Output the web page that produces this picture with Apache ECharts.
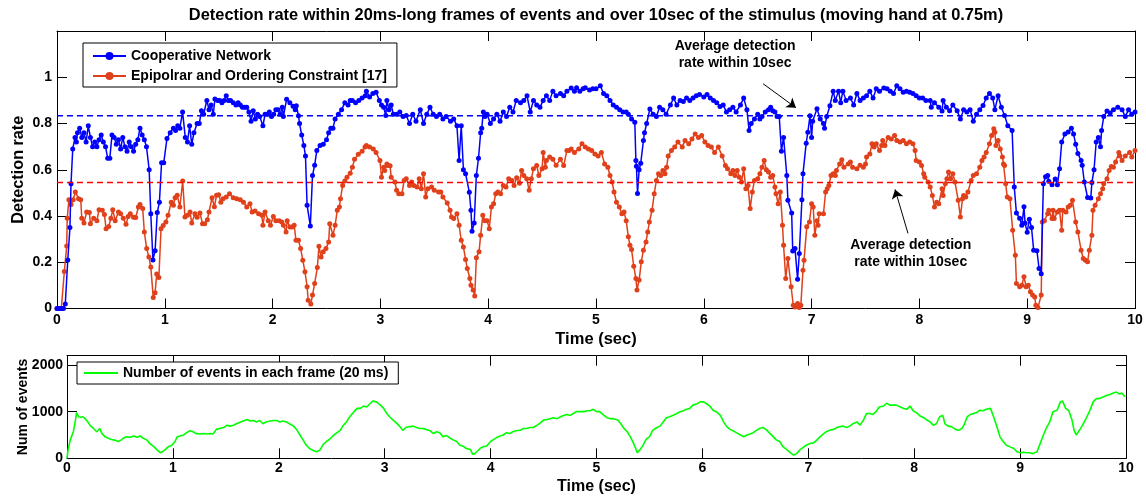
<!DOCTYPE html>
<html><head><meta charset="utf-8">
<script src="https://cdn.jsdelivr.net/npm/echarts@6/dist/echarts.min.js"></script>
<style>html,body{margin:0;padding:0;background:#fff}#c{width:1146px;height:499px}</style>
</head><body><div id="c"></div>
<script>
// ---- data: [time (sec), value] ----
const coopPoints = [[0,0],[0.02,0],[0.04,0],[0.06,0],[0.077,0.02],[0.1,0.21],[0.12,0.35],[0.13,0.54],[0.146,0.69],[0.167,0.74],[0.18,0.72],[0.19,0.76],[0.21,0.78],[0.23,0.74],[0.25,0.76],[0.27,0.72],[0.29,0.79],[0.31,0.74],[0.33,0.7],[0.35,0.72],[0.37,0.7],[0.39,0.73],[0.41,0.75],[0.43,0.72],[0.45,0.7],[0.47,0.65],[0.49,0.65],[0.51,0.75],[0.53,0.74],[0.55,0.71],[0.57,0.73],[0.59,0.69],[0.61,0.74],[0.63,0.7],[0.65,0.68],[0.67,0.72],[0.69,0.7],[0.71,0.68],[0.73,0.71],[0.75,0.73],[0.77,0.78],[0.79,0.75],[0.81,0.73],[0.83,0.7],[0.855,0.6],[0.87,0.41],[0.89,0.21],[0.91,0.25],[0.93,0.415],[0.95,0.46],[0.97,0.63],[0.99,0.63],[1.02,0.735],[1.05,0.76],[1.08,0.78],[1.1,0.77],[1.12,0.79],[1.14,0.78],[1.165,0.85],[1.19,0.74],[1.21,0.72],[1.23,0.79],[1.25,0.71],[1.27,0.76],[1.3,0.8],[1.32,0.8],[1.34,0.855],[1.36,0.84],[1.39,0.9],[1.41,0.86],[1.43,0.88],[1.45,0.84],[1.465,0.906],[1.49,0.9],[1.51,0.9],[1.53,0.89],[1.55,0.9],[1.57,0.92],[1.59,0.9],[1.61,0.9],[1.635,0.89],[1.66,0.88],[1.68,0.89],[1.7,0.88],[1.72,0.87],[1.74,0.87],[1.76,0.87],[1.78,0.85],[1.8,0.81],[1.82,0.855],[1.84,0.82],[1.86,0.84],[1.88,0.83],[1.91,0.79],[1.93,0.84],[1.95,0.84],[1.97,0.85],[1.99,0.83],[2.01,0.84],[2.03,0.86],[2.05,0.86],[2.07,0.84],[2.09,0.87],[2.1,0.83],[2.13,0.905],[2.16,0.89],[2.19,0.875],[2.21,0.86],[2.22,0.877],[2.24,0.834],[2.25,0.8],[2.27,0.75],[2.29,0.705],[2.305,0.66],[2.32,0.446],[2.35,0.357],[2.37,0.575],[2.39,0.62],[2.41,0.683],[2.44,0.705],[2.47,0.71],[2.5,0.73],[2.52,0.76],[2.54,0.78],[2.56,0.78],[2.58,0.82],[2.61,0.84],[2.64,0.86],[2.67,0.89],[2.7,0.88],[2.72,0.9],[2.74,0.9],[2.77,0.89],[2.8,0.9],[2.83,0.91],[2.86,0.92],[2.87,0.94],[2.9,0.915],[2.93,0.93],[2.96,0.935],[2.99,0.9],[3.01,0.88],[3.03,0.87],[3.05,0.835],[3.06,0.9],[3.08,0.86],[3.1,0.88],[3.12,0.84],[3.15,0.84],[3.18,0.85],[3.21,0.83],[3.24,0.835],[3.27,0.8],[3.3,0.84],[3.33,0.81],[3.37,0.86],[3.4,0.8],[3.43,0.84],[3.46,0.87],[3.49,0.84],[3.52,0.83],[3.55,0.84],[3.58,0.82],[3.61,0.83],[3.65,0.81],[3.68,0.82],[3.71,0.79],[3.73,0.64],[3.75,0.79],[3.77,0.6],[3.79,0.583],[3.825,0.503],[3.84,0.425],[3.85,0.334],[3.87,0.37],[3.89,0.575],[3.91,0.65],[3.93,0.76],[3.94,0.78],[3.955,0.85],[3.97,0.83],[3.99,0.84],[4.02,0.8],[4.05,0.82],[4.08,0.84],[4.11,0.81],[4.14,0.85],[4.17,0.83],[4.2,0.87],[4.23,0.85],[4.26,0.9],[4.3,0.89],[4.33,0.9],[4.36,0.92],[4.39,0.85],[4.42,0.9],[4.45,0.88],[4.48,0.87],[4.51,0.9],[4.54,0.92],[4.57,0.9],[4.6,0.94],[4.63,0.92],[4.67,0.93],[4.7,0.92],[4.73,0.94],[4.77,0.953],[4.8,0.94],[4.82,0.955],[4.85,0.94],[4.88,0.95],[4.9,0.955],[4.94,0.945],[4.97,0.95],[5.0,0.95],[5.04,0.963],[5.07,0.93],[5.1,0.92],[5.13,0.9],[5.16,0.88],[5.19,0.87],[5.22,0.86],[5.25,0.85],[5.28,0.85],[5.3,0.84],[5.33,0.82],[5.36,0.805],[5.37,0.64],[5.375,0.615],[5.385,0.497],[5.4,0.6],[5.415,0.628],[5.44,0.726],[5.45,0.76],[5.47,0.8],[5.5,0.863],[5.53,0.84],[5.56,0.83],[5.59,0.87],[5.62,0.86],[5.65,0.84],[5.69,0.88],[5.72,0.91],[5.75,0.88],[5.78,0.9],[5.81,0.895],[5.84,0.91],[5.87,0.9],[5.9,0.91],[5.93,0.92],[5.96,0.925],[6.0,0.915],[6.03,0.925],[6.06,0.91],[6.09,0.9],[6.12,0.89],[6.15,0.873],[6.18,0.88],[6.21,0.85],[6.24,0.86],[6.27,0.87],[6.3,0.85],[6.34,0.88],[6.37,0.91],[6.4,0.86],[6.42,0.77],[6.44,0.8],[6.47,0.82],[6.5,0.84],[6.52,0.82],[6.54,0.83],[6.57,0.85],[6.6,0.86],[6.62,0.87],[6.64,0.855],[6.66,0.85],[6.68,0.83],[6.7,0.83],[6.72,0.68],[6.74,0.74],[6.77,0.575],[6.78,0.468],[6.815,0.413],[6.825,0.249],[6.846,0.26],[6.87,0.127],[6.886,0.238],[6.91,0.47],[6.92,0.583],[6.95,0.715],[6.965,0.762],[6.985,0.834],[7.0,0.74],[7.01,0.81],[7.05,0.864],[7.08,0.82],[7.11,0.8],[7.12,0.78],[7.14,0.83],[7.17,0.877],[7.2,0.94],[7.22,0.9],[7.25,0.94],[7.27,0.89],[7.29,0.94],[7.32,0.9],[7.36,0.91],[7.39,0.88],[7.42,0.93],[7.45,0.9],[7.48,0.91],[7.51,0.92],[7.54,0.94],[7.57,0.91],[7.6,0.95],[7.63,0.94],[7.67,0.953],[7.7,0.95],[7.73,0.94],[7.76,0.93],[7.79,0.963],[7.82,0.95],[7.85,0.935],[7.88,0.94],[7.91,0.935],[7.94,0.93],[7.97,0.92],[8.0,0.91],[8.03,0.91],[8.06,0.9],[8.1,0.9],[8.11,0.87],[8.14,0.89],[8.18,0.87],[8.21,0.854],[8.22,0.9],[8.25,0.87],[8.28,0.855],[8.31,0.88],[8.35,0.855],[8.38,0.82],[8.41,0.86],[8.44,0.85],[8.47,0.86],[8.5,0.81],[8.53,0.84],[8.56,0.86],[8.59,0.878],[8.62,0.91],[8.65,0.93],[8.68,0.91],[8.7,0.86],[8.73,0.92],[8.76,0.87],[8.79,0.835],[8.82,0.79],[8.86,0.77],[8.88,0.525],[8.9,0.413],[8.93,0.39],[8.95,0.36],[8.97,0.44],[8.98,0.37],[9.0,0.33],[9.02,0.386],[9.04,0.35],[9.06,0.252],[9.09,0.25],[9.11,0.173],[9.13,0.15],[9.15,0.54],[9.17,0.57],[9.19,0.575],[9.2,0.55],[9.23,0.535],[9.26,0.56],[9.28,0.535],[9.3,0.604],[9.32,0.72],[9.35,0.755],[9.38,0.763],[9.41,0.78],[9.43,0.755],[9.45,0.71],[9.47,0.67],[9.5,0.64],[9.51,0.62],[9.53,0.547],[9.56,0.48],[9.59,0.478],[9.6,0.545],[9.62,0.6],[9.64,0.72],[9.66,0.74],[9.68,0.7],[9.69,0.77],[9.71,0.83],[9.74,0.854],[9.77,0.845],[9.8,0.86],[9.84,0.87],[9.88,0.86],[9.91,0.83],[9.94,0.86],[9.97,0.84],[10,0.85]];

const epiPoints = [[0,0],[0.02,0],[0.04,0],[0.068,0.16],[0.09,0.27],[0.095,0.39],[0.11,0.47],[0.13,0.45],[0.15,0.47],[0.17,0.504],[0.2,0.475],[0.22,0.47],[0.23,0.39],[0.25,0.37],[0.275,0.417],[0.3,0.415],[0.31,0.367],[0.34,0.39],[0.37,0.38],[0.39,0.427],[0.42,0.425],[0.44,0.407],[0.455,0.345],[0.48,0.355],[0.5,0.39],[0.517,0.427],[0.54,0.38],[0.57,0.417],[0.59,0.41],[0.615,0.39],[0.64,0.364],[0.66,0.398],[0.68,0.41],[0.71,0.395],[0.73,0.393],[0.755,0.439],[0.77,0.45],[0.795,0.432],[0.81,0.331],[0.832,0.259],[0.852,0.223],[0.87,0.18],[0.893,0.048],[0.91,0.068],[0.925,0.149],[0.945,0.134],[0.965,0.345],[0.985,0.359],[1.01,0.374],[1.03,0.403],[1.06,0.46],[1.08,0.447],[1.095,0.479],[1.115,0.49],[1.14,0.439],[1.166,0.551],[1.187,0.396],[1.21,0.403],[1.234,0.417],[1.25,0.37],[1.28,0.41],[1.3,0.395],[1.326,0.413],[1.35,0.367],[1.37,0.367],[1.395,0.384],[1.41,0.417],[1.438,0.479],[1.46,0.44],[1.48,0.49],[1.5,0.492],[1.52,0.46],[1.54,0.475],[1.57,0.482],[1.6,0.496],[1.635,0.479],[1.667,0.475],[1.7,0.47],[1.73,0.46],[1.76,0.439],[1.79,0.453],[1.81,0.417],[1.837,0.422],[1.87,0.41],[1.9,0.403],[1.91,0.36],[1.93,0.417],[1.96,0.38],[1.98,0.36],[2.007,0.398],[2.03,0.38],[2.06,0.38],[2.085,0.374],[2.1,0.36],[2.125,0.331],[2.135,0.38],[2.16,0.352],[2.18,0.352],[2.2,0.36],[2.217,0.295],[2.24,0.295],[2.26,0.259],[2.28,0.209],[2.3,0.159],[2.32,0.094],[2.33,0.036],[2.355,0.019],[2.37,0.058],[2.39,0.108],[2.415,0.177],[2.43,0.269],[2.45,0.223],[2.47,0.245],[2.495,0.259],[2.52,0.288],[2.53,0.367],[2.56,0.317],[2.58,0.36],[2.6,0.425],[2.62,0.439],[2.63,0.475],[2.65,0.532],[2.67,0.551],[2.69,0.568],[2.72,0.585],[2.74,0.611],[2.76,0.645],[2.795,0.667],[2.83,0.68],[2.857,0.698],[2.87,0.705],[2.9,0.698],[2.934,0.69],[2.96,0.675],[2.996,0.64],[3.01,0.568],[3.03,0.611],[3.04,0.597],[3.06,0.625],[3.07,0.618],[3.09,0.617],[3.1,0.568],[3.135,0.547],[3.15,0.511],[3.17,0.496],[3.2,0.496],[3.22,0.554],[3.24,0.561],[3.27,0.532],[3.29,0.547],[3.31,0.532],[3.34,0.525],[3.36,0.561],[3.38,0.518],[3.4,0.583],[3.42,0.482],[3.44,0.518],[3.475,0.525],[3.5,0.511],[3.54,0.504],[3.56,0.504],[3.58,0.482],[3.62,0.456],[3.646,0.425],[3.66,0.396],[3.68,0.389],[3.71,0.41],[3.73,0.36],[3.75,0.295],[3.77,0.266],[3.79,0.212],[3.806,0.173],[3.83,0.13],[3.84,0.101],[3.86,0.08],[3.875,0.054],[3.89,0.22],[3.915,0.245],[3.93,0.317],[3.95,0.403],[3.97,0.38],[3.99,0.38],[4.01,0.345],[4.03,0.439],[4.05,0.453],[4.07,0.496],[4.09,0.504],[4.115,0.496],[4.14,0.532],[4.165,0.525],[4.19,0.561],[4.22,0.554],[4.24,0.532],[4.264,0.565],[4.29,0.542],[4.31,0.597],[4.33,0.575],[4.357,0.561],[4.38,0.511],[4.4,0.561],[4.42,0.604],[4.45,0.618],[4.47,0.575],[4.5,0.604],[4.51,0.675],[4.53,0.611],[4.54,0.64],[4.57,0.655],[4.6,0.645],[4.63,0.62],[4.67,0.645],[4.7,0.618],[4.73,0.683],[4.75,0.683],[4.77,0.69],[4.8,0.675],[4.84,0.69],[4.87,0.712],[4.9,0.698],[4.93,0.69],[4.96,0.683],[4.99,0.668],[5.02,0.66],[5.05,0.675],[5.08,0.625],[5.11,0.611],[5.13,0.575],[5.15,0.547],[5.167,0.504],[5.19,0.46],[5.216,0.439],[5.24,0.41],[5.26,0.417],[5.28,0.38],[5.3,0.31],[5.315,0.274],[5.33,0.255],[5.35,0.183],[5.37,0.13],[5.38,0.08],[5.4,0.123],[5.42,0.202],[5.44,0.252],[5.464,0.288],[5.48,0.331],[5.495,0.374],[5.52,0.425],[5.54,0.496],[5.56,0.554],[5.58,0.583],[5.6,0.575],[5.62,0.597],[5.64,0.583],[5.655,0.611],[5.67,0.66],[5.7,0.683],[5.73,0.698],[5.76,0.72],[5.8,0.698],[5.826,0.727],[5.86,0.712],[5.89,0.733],[5.92,0.755],[5.95,0.74],[5.98,0.748],[6.01,0.72],[6.04,0.705],[6.07,0.698],[6.1,0.675],[6.135,0.698],[6.17,0.66],[6.2,0.618],[6.22,0.604],[6.25,0.583],[6.27,0.597],[6.29,0.575],[6.31,0.597],[6.33,0.568],[6.35,0.547],[6.37,0.604],[6.39,0.518],[6.41,0.532],[6.43,0.432],[6.45,0.504],[6.47,0.554],[6.5,0.561],[6.52,0.583],[6.54,0.611],[6.56,0.64],[6.58,0.6],[6.6,0.59],[6.62,0.568],[6.64,0.575],[6.66,0.525],[6.67,0.496],[6.69,0.453],[6.71,0.504],[6.73,0.36],[6.74,0.274],[6.76,0.13],[6.78,0.216],[6.81,0.094],[6.83,0.014],[6.846,0.007],[6.87,0.022],[6.886,0.004],[6.9,0.014],[6.92,0.165],[6.93,0.209],[6.955,0.353],[6.98,0.374],[7.0,0.453],[7.015,0.439],[7.03,0.317],[7.05,0.38],[7.06,0.36],[7.07,0.41],[7.11,0.41],[7.13,0.504],[7.145,0.518],[7.16,0.532],[7.18,0.575],[7.2,0.583],[7.22,0.575],[7.23,0.597],[7.26,0.625],[7.28,0.643],[7.3,0.611],[7.34,0.625],[7.36,0.633],[7.38,0.611],[7.42,0.604],[7.45,0.62],[7.48,0.611],[7.5,0.625],[7.51,0.655],[7.54,0.668],[7.56,0.712],[7.58,0.698],[7.6,0.712],[7.63,0.683],[7.65,0.705],[7.66,0.727],[7.68,0.705],[7.71,0.74],[7.74,0.733],[7.77,0.748],[7.79,0.727],[7.82,0.72],[7.85,0.727],[7.88,0.712],[7.91,0.72],[7.94,0.712],[7.96,0.683],[7.97,0.64],[8.0,0.633],[8.02,0.618],[8.04,0.583],[8.05,0.568],[8.08,0.547],[8.1,0.525],[8.12,0.489],[8.14,0.439],[8.16,0.46],[8.18,0.453],[8.21,0.518],[8.22,0.489],[8.24,0.54],[8.255,0.561],[8.27,0.59],[8.29,0.561],[8.31,0.583],[8.33,0.547],[8.36,0.468],[8.38,0.396],[8.4,0.475],[8.41,0.489],[8.43,0.482],[8.45,0.504],[8.48,0.554],[8.5,0.575],[8.53,0.583],[8.56,0.611],[8.58,0.64],[8.6,0.655],[8.62,0.675],[8.65,0.712],[8.67,0.748],[8.69,0.777],[8.7,0.762],[8.71,0.705],[8.73,0.727],[8.75,0.69],[8.77,0.655],[8.78,0.625],[8.79,0.618],[8.8,0.54],[8.815,0.482],[8.84,0.475],[8.865,0.338],[8.89,0.23],[8.9,0.108],[8.93,0.094],[8.95,0.101],[8.97,0.137],[8.99,0.094],[9.01,0.101],[9.03,0.072],[9.05,0.058],[9.07,0.05],[9.08,0.014],[9.1,0.004],[9.13,0.058],[9.14,0.374],[9.16,0.38],[9.19,0.41],[9.2,0.425],[9.23,0.389],[9.24,0.425],[9.25,0.389],[9.28,0.417],[9.3,0.425],[9.32,0.338],[9.33,0.425],[9.36,0.417],[9.38,0.439],[9.4,0.446],[9.42,0.468],[9.45,0.374],[9.47,0.331],[9.5,0.252],[9.52,0.216],[9.54,0.209],[9.56,0.202],[9.576,0.252],[9.6,0.317],[9.61,0.425],[9.63,0.446],[9.66,0.475],[9.68,0.496],[9.7,0.518],[9.71,0.54],[9.74,0.561],[9.76,0.597],[9.78,0.614],[9.8,0.611],[9.82,0.633],[9.85,0.675],[9.86,0.66],[9.88,0.64],[9.91,0.66],[9.95,0.675],[9.97,0.655],[10,0.683]];

const eventPoints = [[0,0],[0.01,180],[0.03,390],[0.045,430],[0.06,570],[0.08,820],[0.09,980],[0.11,890],[0.13,880],[0.15,890],[0.17,850],[0.19,800],[0.2,820],[0.22,700],[0.25,640],[0.28,570],[0.31,640],[0.33,530],[0.36,460],[0.39,430],[0.42,405],[0.45,390],[0.485,360],[0.51,390],[0.53,430],[0.56,460],[0.595,450],[0.63,480],[0.66,450],[0.69,480],[0.72,430],[0.755,390],[0.78,320],[0.82,250],[0.85,180],[0.88,120],[0.9,140],[0.93,190],[0.957,250],[0.99,280],[1.02,360],[1.04,460],[1.07,480],[1.1,500],[1.13,550],[1.16,590],[1.19,570],[1.22,530],[1.26,520],[1.29,530],[1.32,520],[1.35,530],[1.38,520],[1.41,620],[1.44,640],[1.48,660],[1.51,710],[1.54,690],[1.57,710],[1.6,740],[1.64,780],[1.665,800],[1.7,830],[1.73,800],[1.76,810],[1.79,780],[1.82,810],[1.85,740],[1.88,780],[1.92,800],[1.95,810],[1.98,810],[2.01,780],[2.04,800],[2.07,780],[2.1,740],[2.14,690],[2.17,610],[2.2,500],[2.23,390],[2.26,280],[2.29,210],[2.33,160],[2.36,140],[2.39,180],[2.42,300],[2.45,360],[2.48,410],[2.52,500],[2.55,550],[2.58,600],[2.61,710],[2.64,780],[2.67,890],[2.71,1000],[2.74,1070],[2.77,1070],[2.8,1120],[2.83,1100],[2.86,1170],[2.89,1230],[2.92,1210],[2.96,1140],[2.99,1070],[3.02,960],[3.05,880],[3.08,820],[3.11,760],[3.14,690],[3.17,600],[3.2,660],[3.24,680],[3.27,690],[3.3,660],[3.33,640],[3.36,640],[3.39,620],[3.43,590],[3.46,530],[3.49,570],[3.52,550],[3.55,460],[3.58,490],[3.62,430],[3.65,390],[3.68,360],[3.71,280],[3.74,260],[3.77,210],[3.81,190],[3.83,90],[3.85,100],[3.87,140],[3.9,210],[3.93,250],[3.96,260],[4.0,360],[4.02,390],[4.06,450],[4.09,480],[4.12,500],[4.15,550],[4.18,530],[4.21,570],[4.24,590],[4.28,600],[4.31,640],[4.34,640],[4.37,660],[4.4,660],[4.44,710],[4.47,760],[4.5,820],[4.53,830],[4.56,850],[4.59,870],[4.63,850],[4.66,890],[4.69,920],[4.72,940],[4.75,920],[4.78,960],[4.81,1000],[4.84,1000],[4.88,1000],[4.91,1020],[4.94,1020],[4.97,1050],[5.0,1000],[5.03,1000],[5.07,920],[5.1,870],[5.13,850],[5.16,850],[5.2,820],[5.23,740],[5.26,640],[5.29,570],[5.32,460],[5.35,320],[5.37,210],[5.385,120],[5.41,180],[5.44,280],[5.47,410],[5.5,460],[5.53,600],[5.57,660],[5.6,690],[5.63,780],[5.66,870],[5.69,890],[5.72,920],[5.76,960],[5.79,1000],[5.82,1020],[5.85,1050],[5.88,1070],[5.91,1140],[5.95,1170],[5.98,1210],[6.01,1210],[6.04,1170],[6.07,1120],[6.1,1030],[6.13,1000],[6.17,920],[6.2,780],[6.23,680],[6.26,620],[6.29,590],[6.32,550],[6.36,500],[6.39,460],[6.42,500],[6.45,520],[6.48,550],[6.51,600],[6.54,640],[6.57,660],[6.6,620],[6.64,530],[6.67,460],[6.7,390],[6.73,360],[6.76,250],[6.8,180],[6.83,120],[6.86,70],[6.89,100],[6.92,180],[6.95,230],[6.98,280],[7.02,320],[7.05,330],[7.08,390],[7.11,460],[7.14,520],[7.17,570],[7.2,600],[7.24,620],[7.27,660],[7.3,680],[7.33,690],[7.36,660],[7.39,690],[7.42,740],[7.46,780],[7.49,710],[7.52,820],[7.55,960],[7.58,960],[7.61,940],[7.64,1000],[7.67,1100],[7.71,1120],[7.74,1180],[7.77,1140],[7.8,1140],[7.83,1140],[7.87,1100],[7.9,1070],[7.93,1050],[7.96,1120],[7.99,1020],[8.02,980],[8.06,900],[8.09,870],[8.12,820],[8.15,780],[8.18,710],[8.21,740],[8.24,890],[8.27,920],[8.29,740],[8.32,690],[8.35,680],[8.39,620],[8.42,600],[8.45,640],[8.47,710],[8.5,890],[8.53,940],[8.56,960],[8.59,980],[8.62,1030],[8.65,1020],[8.68,1050],[8.72,1070],[8.75,890],[8.78,680],[8.81,460],[8.84,360],[8.87,280],[8.9,250],[8.94,210],[8.97,140],[9.0,120],[9.03,130],[9.06,120],[9.09,120],[9.12,100],[9.16,140],[9.19,320],[9.22,500],[9.25,660],[9.28,780],[9.31,1000],[9.35,1030],[9.38,1210],[9.4,1230],[9.43,1070],[9.46,1020],[9.49,820],[9.51,600],[9.53,500],[9.56,600],[9.59,710],[9.63,890],[9.66,1030],[9.69,1210],[9.72,1280],[9.75,1280],[9.79,1320],[9.82,1350],[9.85,1370],[9.88,1400],[9.91,1420],[9.94,1380],[9.96,1400],[9.99,1320]];

const avgCoop = 0.833;   // average detection rate, cooperative network
const avgEpi = 0.545;    // average detection rate, epipolar method
const seriesNames = ['Cooperative Network', 'Epipolrar and Ordering Constraint [17]', 'Number of events in each frame (20 ms)'];
const annotationText = 'Average detection\nrate within 10sec';
const titleText = 'Detection rate within 20ms-long frames of events and over 10sec of the stimulus (moving hand at 0.75m)';

// ---- styling ----
const FONT = "'Liberation Sans', Arial, Helvetica, sans-serif";
const BLUE = '#0000ff', RED = '#e0401a', GREEN = '#00ff00';
const G0 = {left: 57, top: 31, width: 1078, height: 277.5};
const G1 = {left: 67, top: 355.7, width: 1059, height: 102.6};

const chart = echarts.init(document.getElementById('c'), null, {renderer: 'canvas'});

function axLine() { return {show: true, onZero: false, lineStyle: {color: '#000', width: 1}}; }
function tick(len) { return {show: true, inside: true, length: len, lineStyle: {color: '#000', width: 1}}; }
const lbl = (m) => ({show: true, margin: m, color: '#000', fontFamily: FONT, fontWeight: 'bold', fontSize: 14,
                     showMaxLabel: true, formatter: (v) => String(v)});
const nameStyle = (sz) => ({color: '#000', fontFamily: FONT, fontWeight: 'bold', fontSize: sz});

const option = {
  animation: false,
  backgroundColor: '#fff',
  grid: [
    Object.assign({containLabel: false, outerBoundsMode: 'none'}, G0),
    Object.assign({containLabel: false, outerBoundsMode: 'none'}, G1)
  ],
  legend: [
    {
      data: [seriesNames[0], seriesNames[1]], orient: 'vertical', left: 83, top: 43,
      padding: [6, 10, 4, 9], itemGap: 6, itemWidth: 33, itemHeight: 10,
      borderColor: '#000', borderWidth: 1, backgroundColor: '#fff', selectedMode: false,
      textStyle: {color: '#000', fontFamily: FONT, fontWeight: 'bold', fontSize: 14}
    },
    {
      data: [{name: seriesNames[2], icon: 'rect'}], orient: 'vertical', left: 77, top: 362,
      padding: [4, 10, 4, 7], itemWidth: 34, itemHeight: 2,
      borderColor: '#000', borderWidth: 1, backgroundColor: '#fff', selectedMode: false,
      textStyle: {color: '#000', fontFamily: FONT, fontWeight: 'bold', fontSize: 14, lineHeight: 14}
    }
  ],
  xAxis: [
    {gridIndex: 0, type: 'value', position: 'bottom', min: 0, max: 10, interval: 1,
     name: 'Time (sec)', nameLocation: 'middle', nameGap: 22, nameTextStyle: nameStyle(16.5), nameMoveOverlap: false,
     axisLine: axLine(), axisTick: tick(10), axisLabel: lbl(5), splitLine: {show: false}},
    {gridIndex: 0, type: 'value', position: 'top', min: 0, max: 10, interval: 1,
     axisLine: axLine(), axisTick: tick(10), axisLabel: {show: false}, splitLine: {show: false}},
    {gridIndex: 1, type: 'value', position: 'bottom', min: 0, max: 10, interval: 1,
     name: 'Time (sec)', nameLocation: 'middle', nameGap: 20, nameTextStyle: nameStyle(16), nameMoveOverlap: false,
     axisLine: axLine(), axisTick: tick(10), axisLabel: lbl(3), splitLine: {show: false}},
    {gridIndex: 1, type: 'value', position: 'top', min: 0, max: 10, interval: 1,
     axisLine: axLine(), axisTick: tick(10), axisLabel: {show: false}, splitLine: {show: false}}
  ],
  yAxis: [
    {gridIndex: 0, type: 'value', position: 'left', min: 0, max: 1.2, interval: 0.2,
     name: 'Detection rate', nameLocation: 'middle', nameGap: 30, nameRotate: 90, nameTextStyle: nameStyle(16.2), nameMoveOverlap: false,
     axisLine: axLine(), axisTick: tick(10), axisLabel: Object.assign(lbl(5), {showMaxLabel: false}), splitLine: {show: false}},
    {gridIndex: 0, type: 'value', position: 'right', min: 0, max: 1.2, interval: 0.2,
     axisLine: axLine(), axisTick: tick(10), axisLabel: {show: false}, splitLine: {show: false}},
    {gridIndex: 1, type: 'value', position: 'left', min: 0, max: 2200, interval: 1000,
     name: 'Num of events', nameLocation: 'middle', nameGap: 37, nameRotate: 90, nameTextStyle: nameStyle(14), nameMoveOverlap: false,
     axisLine: axLine(), axisTick: tick(10), axisLabel: Object.assign(lbl(4), {showMaxLabel: false}), splitLine: {show: false}},
    {gridIndex: 1, type: 'value', position: 'right', min: 0, max: 2200, interval: 1000,
     axisLine: axLine(), axisTick: tick(10), axisLabel: {show: false}, splitLine: {show: false}}
  ],
  series: [
    {name: seriesNames[1], type: 'line', xAxisIndex: 0, yAxisIndex: 0, data: epiPoints,
     symbol: 'circle', symbolSize: 5, showAllSymbol: true, color: RED,
     lineStyle: {color: RED, width: 1.5}, itemStyle: {color: RED}, z: 3},
    {name: seriesNames[0], type: 'line', xAxisIndex: 0, yAxisIndex: 0, data: coopPoints,
     symbol: 'circle', symbolSize: 5, showAllSymbol: true, color: BLUE,
     lineStyle: {color: BLUE, width: 1.5}, itemStyle: {color: BLUE}, z: 4,
     markLine: {
       silent: true, animation: false, symbol: ['none', 'arrow'], symbolSize: 9,
       lineStyle: {color: '#000', type: 'solid', width: 1}, itemStyle: {color: '#000'}, label: {show: false},
       data: [
         [{coord: [6.55, 0.972]}, {coord: [6.855, 0.868]}],
         [{coord: [7.894, 0.325]}, {coord: [7.774, 0.515]}]
       ]
     }},
    {name: 'avgCoop', type: 'line', xAxisIndex: 0, yAxisIndex: 0, data: [[0, avgCoop], [10, avgCoop]],
     symbol: 'none', lineStyle: {color: BLUE, width: 1.5, type: [6, 4]}, z: 5},
    {name: 'avgEpi', type: 'line', xAxisIndex: 0, yAxisIndex: 0, data: [[0, avgEpi], [10, avgEpi]],
     symbol: 'none', lineStyle: {color: '#ff0000', width: 1.5, type: [6, 4]}, z: 5},
    {name: seriesNames[2], type: 'line', xAxisIndex: 2, yAxisIndex: 2, data: eventPoints,
     symbol: 'none', color: GREEN, lineStyle: {color: GREEN, width: 1.6}}
  ]
};
chart.setOption(option);

// text annotations, placed in data coordinates of the top plot
const pTop = chart.convertToPixel({gridIndex: 0}, [6.29, 1.099]);
const pBot = chart.convertToPixel({gridIndex: 0}, [7.92, 0.236]);
const txt = (p, s) => ({type: 'text', x: p[0], y: p[1], silent: true, z: 100,
  style: {text: s, align: 'center', verticalAlign: 'middle', fill: '#000',
          font: 'bold 14px ' + FONT, lineHeight: 17}});
chart.setOption({graphic: [
  {type: 'text', x: G0.left + G0.width / 2, y: 15, silent: true,
   style: {text: titleText, align: 'center', verticalAlign: 'middle', fill: '#000', font: 'bold 16.4px ' + FONT}},
  txt(pTop, annotationText),
  txt(pBot, annotationText)
]});
</script>
</body></html>
